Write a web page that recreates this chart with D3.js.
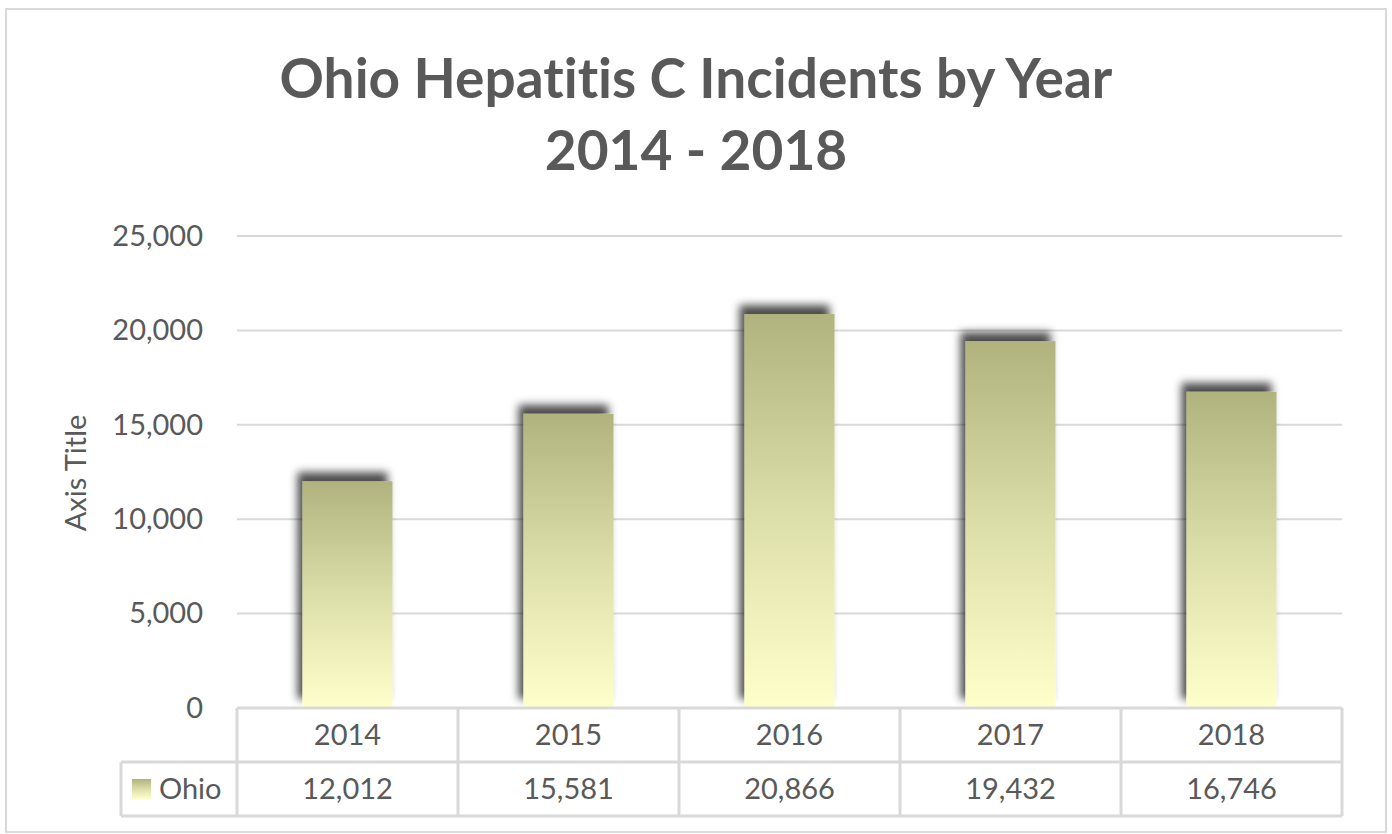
<!DOCTYPE html>
<html lang="en">
<head>
<meta charset="UTF-8">
<title>Ohio Hepatitis C Incidents by Year</title>
<script src="https://d3js.org/d3.v7.min.js"></script>
<style>
  body { margin: 0; background: #fff; }
  text { font-family: Lato, "Open Sans", sans-serif; fill: #595959; font-variant-ligatures: none; }
</style>
</head>
<body>
<div id="chart"></div>
<script>
const years = ["2014", "2015", "2016", "2017", "2018"];
const values = [12012, 15581, 20866, 19432, 16746];
const yTicks = [0, 5000, 10000, 15000, 20000, 25000];
const seriesName = "Ohio";
const titleLines = ["Ohio Hepatitis C Incidents by Year", "2014 - 2018"];

const W = 1392, H = 834;
const plot = { left: 237, right: 1342, top: 236, bottom: 708 };
const rowH = 54;

const svg = d3.select("#chart").append("svg")
    .attr("width", W).attr("height", H);

const defs = svg.append("defs");
const grad = defs.append("linearGradient")
    .attr("id", "barGrad")
    .attr("x1", 0).attr("y1", 0).attr("x2", 0).attr("y2", 1);
grad.append("stop").attr("offset", "0%").attr("stop-color", "#b1b37f");
grad.append("stop").attr("offset", "50%").attr("stop-color", "#dcdea9");
grad.append("stop").attr("offset", "100%").attr("stop-color", "#ffffcc");

const shadow = defs.append("filter")
    .attr("id", "shadow")
    .attr("x", "-30%").attr("y", "-20%")
    .attr("width", "160%").attr("height", "140%");
shadow.append("feGaussianBlur").attr("in", "SourceAlpha").attr("stdDeviation", 4).attr("result", "blur");
shadow.append("feOffset").attr("in", "blur").attr("dx", -5).attr("dy", -9).attr("result", "off");
shadow.append("feFlood").attr("flood-color", "#000").attr("flood-opacity", 0.7).attr("result", "col");
shadow.append("feComposite").attr("in", "col").attr("in2", "off").attr("operator", "in").attr("result", "sh");
const merge = shadow.append("feMerge");
merge.append("feMergeNode").attr("in", "sh");
merge.append("feMergeNode").attr("in", "SourceGraphic");

// outer chart border
svg.append("rect")
    .attr("x", 6).attr("y", 9)
    .attr("width", 1380).attr("height", 823)
    .attr("fill", "#fff")
    .attr("stroke", "#d9d9d9").attr("stroke-width", 2);

// title
svg.selectAll("text.title")
    .data(titleLines)
    .join("text")
    .attr("class", "title")
    .attr("x", 696)
    .attr("y", (d, i) => 98 + i * 72)
    .attr("text-anchor", "middle")
    .attr("font-size", 55)
    .attr("font-weight", "bold")
    .text(d => d);

const y = d3.scaleLinear()
    .domain([0, 25000])
    .range([plot.bottom, plot.top]);

const x = d3.scaleBand()
    .domain(years)
    .range([plot.left, plot.right])
    .paddingInner(0.593)
    .paddingOuter(0.2965);

const col = d3.scaleBand()
    .domain(years)
    .range([plot.left, plot.right]);

// gridlines
svg.append("g")
    .selectAll("line")
    .data(yTicks.filter(d => d > 0))
    .join("line")
    .attr("x1", plot.left).attr("x2", plot.right)
    .attr("y1", d => y(d)).attr("y2", d => y(d))
    .attr("stroke", "#d9d9d9").attr("stroke-width", 2);

// y axis labels
const yAxis = svg.append("g")
    .attr("transform", `translate(${plot.left - 34},0)`)
    .call(d3.axisLeft(y).tickValues(yTicks).tickSize(0).tickPadding(0).tickFormat(d3.format(",")));
yAxis.select(".domain").remove();
yAxis.selectAll("text")
    .attr("font-size", 29)
    .attr("fill", "#595959")
    .attr("font-family", "Lato, 'Open Sans', sans-serif");

svg.append("text")
    .attr("transform", "translate(86,473) rotate(-90)")
    .attr("text-anchor", "middle")
    .attr("font-size", 29)
    .text("Axis Title");

// bars
svg.append("g")
    .selectAll("rect")
    .data(values)
    .join("rect")
    .attr("x", (d, i) => x(years[i]))
    .attr("y", d => y(d))
    .attr("width", x.bandwidth())
    .attr("height", d => y(0) - y(d))
    .attr("fill", "url(#barGrad)")
    .attr("filter", "url(#shadow)");

// data table
const table = svg.append("g")
    .attr("stroke", "#d9d9d9").attr("stroke-width", 3).attr("fill", "none");
const tTop = plot.bottom, tMid = plot.bottom + rowH, tBot = plot.bottom + 2 * rowH;
const legendLeft = 121;
table.append("line").attr("x1", plot.left).attr("x2", plot.right).attr("y1", tTop).attr("y2", tTop);
table.append("line").attr("x1", legendLeft).attr("x2", plot.right).attr("y1", tMid).attr("y2", tMid);
table.append("line").attr("x1", legendLeft).attr("x2", plot.right).attr("y1", tBot).attr("y2", tBot);
table.append("line").attr("x1", legendLeft).attr("x2", legendLeft).attr("y1", tMid).attr("y2", tBot);
table.selectAll("line.v")
    .data(years.concat(["end"]))
    .join("line")
    .attr("class", "v")
    .attr("x1", d => d === "end" ? plot.right : col(d))
    .attr("x2", d => d === "end" ? plot.right : col(d))
    .attr("y1", tTop).attr("y2", tBot);

svg.append("g")
    .selectAll("text")
    .data(years)
    .join("text")
    .attr("x", d => col(d) + col.bandwidth() / 2)
    .attr("y", tTop + rowH / 2)
    .attr("dy", "0.35em")
    .attr("text-anchor", "middle")
    .attr("font-size", 29)
    .text(d => d);

svg.append("g")
    .selectAll("text")
    .data(values)
    .join("text")
    .attr("x", (d, i) => col(years[i]) + col.bandwidth() / 2)
    .attr("y", tMid + rowH / 2)
    .attr("dy", "0.35em")
    .attr("text-anchor", "middle")
    .attr("font-size", 29)
    .text(d => d3.format(",")(d));

// legend key
svg.append("rect")
    .attr("x", 132).attr("y", tMid + 17)
    .attr("width", 19).attr("height", 20)
    .attr("fill", "url(#barGrad)");
svg.append("text")
    .attr("x", 159).attr("y", tMid + rowH / 2)
    .attr("dy", "0.35em")
    .attr("font-size", 29)
    .text(seriesName);
</script>
</body>
</html>
